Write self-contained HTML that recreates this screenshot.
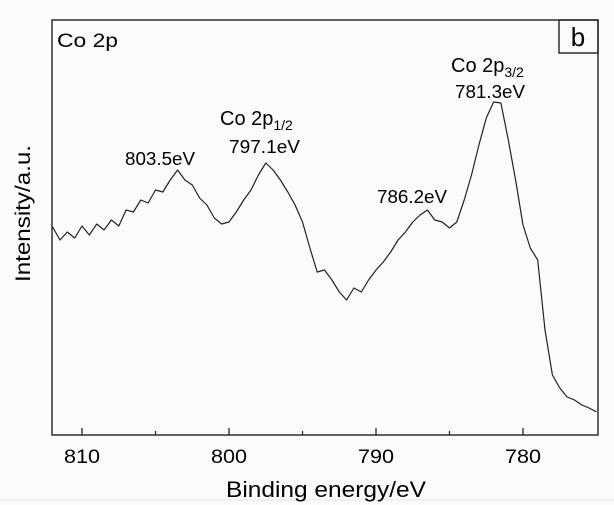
<!DOCTYPE html>
<html><head><meta charset="utf-8"><style>
body{margin:0;background:#fbfbfb;}
svg{display:block;font-family:"Liberation Sans",sans-serif;}
</style></head><body>
<svg id="chart" width="614" height="505" viewBox="0 0 614 505">
<rect x="0" y="0" width="614" height="505" fill="#fbfbfb"/>
<line x1="0" y1="500" x2="614" y2="500" stroke="#e6e6e6"/>
<g id="ticks"></g>
<path id="curve" fill="none" stroke="#222" stroke-width="1.2" stroke-linejoin="round"/>
<rect x="52" y="20" width="546" height="415" fill="none" stroke="#222" stroke-width="1.4"/>
<text x="57" y="47" font-size="19" textLength="61" lengthAdjust="spacingAndGlyphs">Co 2p</text>
<rect x="559" y="20" width="39" height="33" fill="none" stroke="#222" stroke-width="1.4"/>
<text x="578" y="46" font-size="26" text-anchor="middle">b</text>
<text x="451" y="72" font-size="20">Co 2p<tspan font-size="14" dy="5">3/2</tspan></text>
<text x="455" y="98" font-size="18" textLength="70" lengthAdjust="spacingAndGlyphs">781.3eV</text>
<text x="220" y="125" font-size="20">Co 2p<tspan font-size="14" dy="5">1/2</tspan></text>
<text x="229" y="153" font-size="18" textLength="71" lengthAdjust="spacingAndGlyphs">797.1eV</text>
<text x="125" y="165" font-size="18" textLength="70" lengthAdjust="spacingAndGlyphs">803.5eV</text>
<text x="377" y="203" font-size="18" textLength="70" lengthAdjust="spacingAndGlyphs">786.2eV</text>
<text x="226" y="497" font-size="22" textLength="200" lengthAdjust="spacingAndGlyphs">Binding energy/eV</text>
<text transform="translate(30,282) rotate(-90)" font-size="21" textLength="137" lengthAdjust="spacingAndGlyphs">Intensity/a.u.</text>
</svg>
<script>
const energies=[812,811.5,811,810.5,810,809.5,809,808.5,808,807.5,807,806.5,806,805.5,805,804.5,804,803.5,803,802.5,802,801.5,801,800.5,800,799.5,799,798.5,798,797.5,797,796.5,796,795.5,795,794.5,794,793.5,793,792.5,792,791.5,791,790.5,790,789.5,789,788.5,788,787.5,787,786.5,786,785.5,785,784.5,784,783.5,783,782.5,782,781.5,781,780.5,780,779.5,779,778.5,778,777.5,777,776.5,776,775.5,775];
const intensity=[208,195,203,197,209,200,211,205,215,209,225,223,235,232,245,243,255,265,255,250,237,230,217,211,213,223,235,245,260,272,265,255,243,230,213,187,163,165,155,143,135,147,143,155,165,173,183,195,203,213,220,225,215,213,207,213,235,260,290,317,333,332,295,255,210,187,175,105,60,47,38,35,30,27,23];
const xTicks=[810,800,790,780];
const xMinor=[805,795,785];
const X=e=>82+(810-e)*14.7;
const Y=v=>435-v;
const NS='http://www.w3.org/2000/svg';
const g=document.getElementById('ticks');
xTicks.forEach(t=>{
  const l=document.createElementNS(NS,'line');
  l.setAttribute('x1',X(t));l.setAttribute('x2',X(t));l.setAttribute('y1',435);l.setAttribute('y2',428);
  l.setAttribute('stroke','#222');l.setAttribute('stroke-width','1.3');
  
  
  g.appendChild(l);
  const tx=document.createElementNS(NS,'text');
  tx.setAttribute('x',X(t)-18);tx.setAttribute('y',463);tx.setAttribute('font-size','19');
  tx.setAttribute('textLength','36');tx.setAttribute('lengthAdjust','spacingAndGlyphs');
  tx.textContent=t;
  
  
  g.appendChild(tx);
});
xMinor.forEach(t=>{
  const l=document.createElementNS(NS,'line');
  l.setAttribute('x1',X(t));l.setAttribute('x2',X(t));l.setAttribute('y1',435);l.setAttribute('y2',431);
  l.setAttribute('stroke','#222');l.setAttribute('stroke-width','1.2');
  
  
  g.appendChild(l);
});
let d='';
energies.forEach((e,i)=>{d+=(i?'L':'M')+X(e).toFixed(1)+' '+Y(intensity[i]).toFixed(1);});
document.getElementById('curve').setAttribute('d',d);
</script>
</body></html>
